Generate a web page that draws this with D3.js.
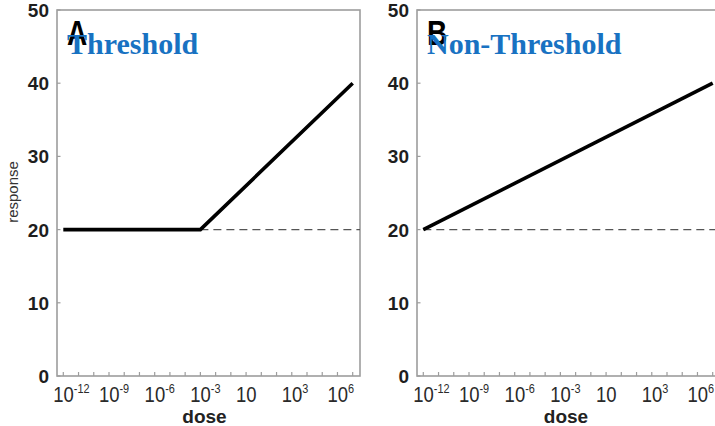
<!DOCTYPE html>
<html>
<head>
<meta charset="utf-8">
<script src="https://cdn.jsdelivr.net/npm/d3@7"></script>
<style>
  html, body { margin: 0; padding: 0; background: #fff; }
  svg { display: block; }
</style>
</head>
<body>
<svg id="chart" width="715" height="426"></svg>
<script>
// ---- data ----
const panelLetters = ["A", "B"];
const panelTitles = ["Threshold", "Non-Threshold"];
const thresholdDose = [1e-12, 1e-3, 1e7];
const thresholdResponse = [20, 20, 40];
const nonThresholdDose = [1e-12, 1e7];
const nonThresholdResponse = [20, 40];
const baselineResponse = 20;
const baselineStartDose = [1e-3, 1e-12];
const minorTickDoses = [1e-12,1e-11,1e-10,1e-9,1e-8,1e-7,1e-6,1e-5,1e-4,1e-3,1e-2,1e-1,1,1e1,1e2,1e3,1e4,1e5,1e6,1e7];
const xLabelDoses = [1e-12, 1e-9, 1e-6, 1e-3, 1, 1e3, 1e6];
const xLabelBase = ["10","10","10","10","10","10","10"];
const xLabelExp = ["-12","-9","-6","-3","","3","6"];
const yTicks = [0, 10, 20, 30, 40, 50];
const xAxisTitle = "dose";
const yAxisTitle = "response";

const svg = d3.select("#chart");

const panels = [
  { frameL: 57, frameR: 360, x0: 63.3, x1: 352.7, dose: thresholdDose, resp: thresholdResponse, showY: true },
  { frameL: 417, frameR: 720, x0: 423.3, x1: 712.7, dose: nonThresholdDose, resp: nonThresholdResponse, showY: false }
];
const frameT = 10, frameB = 376;
const y = d3.scaleLinear().domain([0, 50]).range([frameB, frameT]);

panels.forEach((p, i) => {
  const g = svg.append("g");
  const x = d3.scaleLog().domain([1e-12, 1e7]).range([p.x0, p.x1]);

  // frame
  g.append("rect")
    .attr("x", p.frameL).attr("y", frameT)
    .attr("width", p.frameR - p.frameL).attr("height", frameB - frameT)
    .attr("fill", "#fff").attr("stroke", "#9d9d9d").attr("stroke-width", 1.6);

  // y ticks (inward)
  g.selectAll(".yt").data(yTicks).join("line")
    .attr("x1", p.frameL).attr("x2", p.frameL + 3.5)
    .attr("y1", d => y(d)).attr("y2", d => y(d))
    .attr("stroke", "#9d9d9d").attr("stroke-width", 1.2);
  g.selectAll(".yl").data(yTicks).join("text")
    .attr("x", p.frameL - 8).attr("y", d => y(d) + 7)
    .attr("text-anchor", "end")
    .attr("font-family", "Liberation Sans, Arial, sans-serif")
    .attr("font-weight", "bold").attr("font-size", 19)
    .attr("fill", "#1e1e1e")
    .text(d => d);

  // x minor ticks (inward)
  g.selectAll(".xt").data(minorTickDoses).join("line")
    .attr("x1", d => x(d)).attr("x2", d => x(d))
    .attr("y1", frameB).attr("y2", frameB - 4)
    .attr("stroke", "#9d9d9d").attr("stroke-width", 1.2);

  // x labels
  xLabelDoses.forEach((d, k) => {
    const cx = x(d);
    const t = g.append("text")
      .attr("transform", `translate(${cx},402) scale(0.84,1)`)
      .attr("font-family", "Liberation Sans, Arial, sans-serif")
      .attr("font-size", 22).attr("fill", "#2a2a2a");
    t.append("tspan").attr("x", -12).text(xLabelBase[k]);
    if (xLabelExp[k]) {
      t.append("tspan").attr("dy", -9).attr("font-size", 13).text(xLabelExp[k]);
    }
  });

  // x axis title
  g.append("text")
    .attr("x", (p.frameL + Math.min(p.frameR, 715)) / 2 + (i === 0 ? -4 : 0))
    .attr("y", 423)
    .attr("text-anchor", "middle")
    .attr("font-family", "Liberation Sans, Arial, sans-serif")
    .attr("font-weight", "bold").attr("font-size", 19)
    .attr("fill", "#222")
    .text(xAxisTitle);

  // baseline dashed
  g.append("line")
    .attr("x1", x(baselineStartDose[i])).attr("x2", p.frameR)
    .attr("y1", y(baselineResponse)).attr("y2", y(baselineResponse))
    .attr("stroke", "#555").attr("stroke-width", 1.4)
    .attr("stroke-dasharray", "8,5");

  // response line
  const line = d3.line().x(d => x(d[0])).y(d => y(d[1]));
  g.append("path")
    .datum(p.dose.map((d, k) => [d, p.resp[k]]))
    .attr("d", line)
    .attr("fill", "none").attr("stroke", "#000").attr("stroke-width", 3.6)
    .attr("stroke-linejoin", "miter");

  // panel letter
  g.append("text")
    .attr("transform", `translate(${p.frameL + 10},45) scale(0.78,1)`)
    .attr("font-family", "Liberation Sans, Arial, sans-serif")
    .attr("font-weight", "bold").attr("font-size", 36)
    .attr("fill", "#000")
    .text(panelLetters[i]);

  // panel title
  g.append("text")
    .attr("x", p.frameL + 10).attr("y", 53.5)
    .attr("font-family", "Liberation Serif, Times New Roman, serif")
    .attr("font-weight", "bold").attr("font-size", 30)
    .attr("fill", "#1872c2")
    .text(panelTitles[i]);

  if (p.showY) {
    svg.append("text")
      .attr("transform", `translate(18,192) rotate(-90)`)
      .attr("text-anchor", "middle")
      .attr("font-family", "Liberation Sans, Arial, sans-serif")
      .attr("font-size", 15).attr("fill", "#333")
      .text(yAxisTitle);
  }
});
</script>
</body>
</html>
